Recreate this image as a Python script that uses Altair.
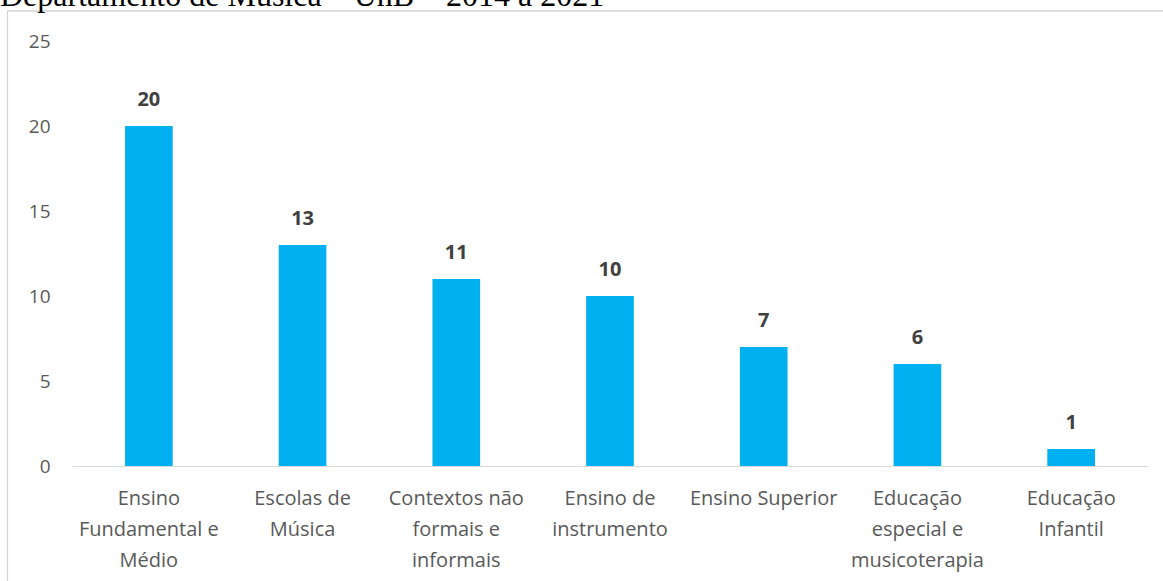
import altair as alt
import pandas as pd

TITLE = "Departamento de Música – UnB – 2014 a 2021"
categories = [
    "Ensino\nFundamental e\nMédio",
    "Escolas de\nMúsica",
    "Contextos não\nformais e\ninformais",
    "Ensino de\ninstrumento",
    "Ensino Superior",
    "Educação\nespecial e\nmusicoterapia",
    "Educação\nInfantil",
]
values = [20, 13, 11, 10, 7, 6, 1]
y_ticks = [0, 5, 10, 15, 20, 25]

W, H = 1076, 425
PL, PT = 72, 41

df = pd.DataFrame({"cat": categories, "val": values})

x = alt.X(
    "cat:N",
    sort=None,
    scale=alt.Scale(paddingInner=0.69, paddingOuter=0.345),
    axis=alt.Axis(
        title=None,
        labelAngle=0,
        labelExpr="split(datum.label, '\\n')",
        labelFont="Open Sans",
        labelFontSize=20,
        labelColor="#595959",
        labelLineHeight=31,
        labelPadding=22,
        ticks=False,
        domainColor="#d9d9d9",
        domainWidth=1.2,
        labelLimit=300,
    ),
)
y = alt.Y(
    "val:Q",
    scale=alt.Scale(domain=[0, 25], nice=False, zero=True),
    axis=alt.Axis(
        title=None,
        values=y_ticks,
        grid=False,
        domain=False,
        ticks=False,
        labelFont="Open Sans",
        labelFontSize=19,
        labelColor="#595959",
        labelPadding=22,
    ),
)

base = alt.Chart(df)
bars = base.mark_bar(color="#00B0F0").encode(x=x, y=y)
labels = base.mark_text(
    font="Open Sans", fontSize=20, fontWeight="bold", color="#404040",
    baseline="middle", dy=-26.5,
).encode(x=x, y=y, text=alt.Text("val:Q"))

frame = alt.Chart(alt.Data(values=[{"a": 1}])).mark_rect(
    filled=False, stroke="#d4d4d4", strokeWidth=1.3
).encode(
    x=alt.value(7.5 - PL), y=alt.value(11 - PT),
    x2=alt.value(1163 - PL + 20), y2=alt.value(581 - PT + 20),
)

title = alt.Chart(alt.Data(values=[{"a": 1}])).mark_text(
    text=TITLE, font="Liberation Serif", fontSize=32, color="#000000",
    align="left", baseline="alphabetic",
).encode(x=alt.value(0 - PL), y=alt.value(6 - PT))

chart = alt.layer(frame, bars, labels, title).properties(
    width=W, height=H,
    autosize=alt.AutoSizeParams(type="none"),
    padding={"left": PL, "top": PT, "right": 1163 - PL - W, "bottom": 581 - PT - H},
    background="white",
).configure_view(stroke=None)

chart.save("out.html", embed_options={"renderer": "svg", "actions": False})
